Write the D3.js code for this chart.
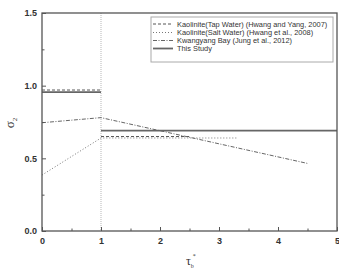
<!DOCTYPE html>
<html><head><meta charset="utf-8">
<script src="https://cdn.jsdelivr.net/npm/d3@7"></script>
<style>body{margin:0;background:#fff}svg{display:block}</style>
</head><body><svg id="c" width="339" height="275"></svg>
<script>
// Data
const seriesNames = ["Kaolinite(Tap Water) (Hwang and Yang, 2007)", "Kaolinite(Salt Water) (Hwang et al., 2008)", "Kwangyang Bay (Jung et al., 2012)", "This Study"];
const tapWaterX = [0, 1, null, 1, 2.5];
const tapWaterY = [0.97, 0.97, null, 0.65, 0.65];
const saltWaterX = [0, 1, 3.3];
const saltWaterY = [0.385, 0.64, 0.64];
const kwangyangX = [0, 1, 4.5];
const kwangyangY = [0.745, 0.78, 0.465];
const studyX = [0, 1, null, 1, 5];
const studyY = [0.955, 0.955, null, 0.69, 0.69];
const xTicks = [0, 1, 2, 3, 4, 5];
const yTicks = [0.0, 0.5, 1.0, 1.5];

const svg = d3.select("#c");
const L = 42, R = 337, T = 13, B = 231;
const x = d3.scaleLinear().domain([0, 5]).range([L, R]);
const y = d3.scaleLinear().domain([0, 1.5]).range([B, T]);
const axisCol = "#555";

// vertical reference line at x=1
svg.append("line").attr("x1", x(1)).attr("x2", x(1)).attr("y1", y(1.5)).attr("y2", y(0))
  .attr("stroke", "#999").attr("stroke-width", 0.7).attr("stroke-dasharray", "1,1");

function pts(xs, ys) { return xs.map((v, i) => ({x: v, y: ys[i]})); }
const line = d3.line().defined(d => d.x !== null).x(d => x(d.x)).y(d => y(d.y));
const styles = [
  {data: pts(tapWaterX, tapWaterY), dash: "3,2", w: 1, c: "#555"},
  {data: pts(saltWaterX, saltWaterY), dash: "1,2", w: 1, c: "#777"},
  {data: pts(kwangyangX, kwangyangY), dash: "4,1.5,1,1.5", w: 1, c: "#666"},
  {data: pts(studyX, studyY), dash: null, w: 1.8, c: "#666"}
];
styles.forEach(s => {
  svg.append("path").datum(s.data).attr("d", line).attr("fill", "none")
    .attr("stroke", s.c).attr("stroke-width", s.w).attr("stroke-dasharray", s.dash);
});

// frame
svg.append("rect").attr("x", L).attr("y", T).attr("width", R - L).attr("height", B - T)
  .attr("fill", "none").attr("stroke", axisCol).attr("stroke-width", 1.3);

// x axis
const xAx = svg.append("g").attr("transform", `translate(0,${B})`)
  .call(d3.axisBottom(x).tickValues(xTicks).tickSizeInner(-4).tickSizeOuter(0).tickPadding(7).tickFormat(d3.format("d")));
xAx.select(".domain").remove();
xAx.selectAll("line").attr("stroke", axisCol);
svg.append("g").attr("transform", `translate(0,${B})`)
  .call(d3.axisBottom(x).tickValues([0.5, 1.5, 2.5, 3.5, 4.5]).tickSizeInner(-2.5).tickSizeOuter(0).tickFormat(""))
  .call(g => { g.select(".domain").remove(); g.selectAll("line").attr("stroke", axisCol); });

// y axis
const yAx = svg.append("g").attr("transform", `translate(${L},0)`)
  .call(d3.axisLeft(y).tickValues(yTicks).tickSizeInner(-4).tickSizeOuter(0).tickPadding(5).tickFormat(d3.format(".1f")));
yAx.select(".domain").remove();
yAx.selectAll("line").attr("stroke", axisCol);
svg.append("g").attr("transform", `translate(${L},0)`)
  .call(d3.axisLeft(y).tickValues([0.25, 0.75, 1.25]).tickSizeInner(-2.5).tickSizeOuter(0).tickFormat(""))
  .call(g => { g.select(".domain").remove(); g.selectAll("line").attr("stroke", axisCol); });

svg.selectAll(".tick text").attr("font-family", "Liberation Sans, Arial, sans-serif")
  .attr("font-size", 9).attr("font-weight", "bold").attr("fill", "#333");

// axis titles
svg.append("text").attr("transform", "translate(14,123) rotate(-90)").attr("text-anchor", "middle")
  .attr("font-family", "Liberation Serif, serif").attr("font-size", 13).attr("fill", "#333")
  .html('σ<tspan font-size="7" dy="3">2</tspan>');
svg.append("text").attr("x", 186).attr("y", 265)
  .attr("font-family", "Liberation Serif, serif").attr("font-size", 12).attr("fill", "#333")
  .html('τ<tspan font-size="6" dy="3">b</tspan><tspan font-size="6" dy="-10" dx="-1">*</tspan>');

// legend
const lg = svg.append("g");
lg.append("rect").attr("x", 151).attr("y", 17).attr("width", 182).attr("height", 45)
  .attr("fill", "#fff").attr("stroke", "#aaa").attr("stroke-width", 1);
const rows = [24, 32.5, 40.5, 48.5];
seriesNames.forEach((n, i) => {
  lg.append("line").attr("x1", 153).attr("x2", 173).attr("y1", rows[i]).attr("y2", rows[i])
    .attr("stroke", styles[i].c).attr("stroke-width", styles[i].w).attr("stroke-dasharray", styles[i].dash);
  lg.append("text").attr("x", 177).attr("y", rows[i] + 2.5).text(n)
    .attr("font-family", "Liberation Sans, Arial, sans-serif").attr("font-size", 7.4).attr("fill", "#333");
});
</script></body></html>
